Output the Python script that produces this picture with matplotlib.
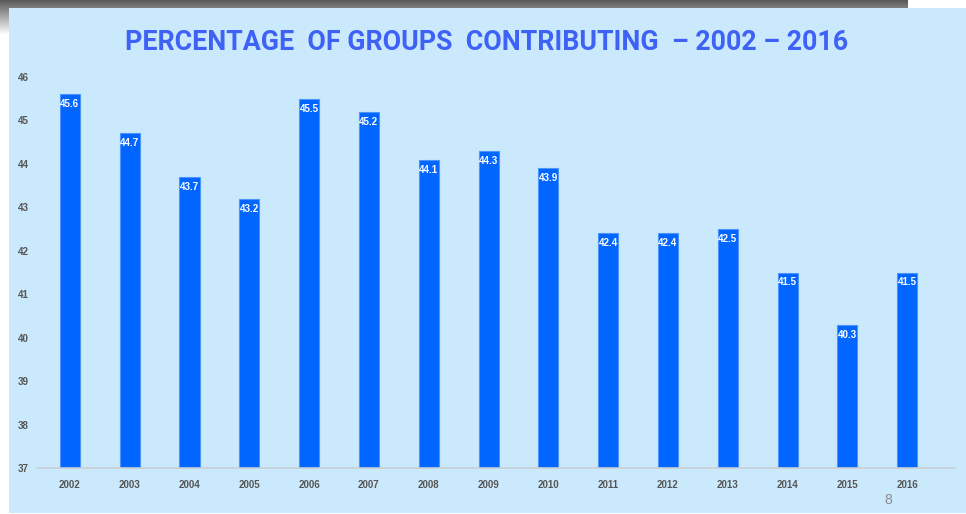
import numpy as np
import matplotlib.pyplot as plt
from matplotlib.patches import Rectangle

years = ['2002', '2003', '2004', '2005', '2006', '2007', '2008', '2009',
         '2010', '2011', '2012', '2013', '2014', '2015', '2016']
pct = [45.6, 44.7, 43.7, 43.2, 45.5, 45.2, 44.1, 44.3,
       43.9, 42.4, 42.4, 42.5, 41.5, 40.3, 41.5]
yticks = [37, 38, 39, 40, 41, 42, 43, 44, 45, 46]

W, H = 966, 514
bg = '#cbe9fd'
bar_col = '#0066ff'

fig = plt.figure(figsize=(W / 100, H / 100), dpi=100)
fig.patch.set_facecolor('white')

# slide panel (behind everything)
fig.patches.append(Rectangle((9 / W, 1 / H), (W - 9) / W, (H - 9) / H,
                             transform=fig.transFigure, facecolor=bg,
                             edgecolor='none', zorder=-10))

# grey shadow strips at the top / left
top = fig.add_axes([0, (H - 8) / H, 908 / W, 8 / H])
top.imshow(np.linspace(0.35, 0.5, 20)[:, None], cmap='gray', vmin=0, vmax=1,
           aspect='auto', extent=[0, 1, 0, 1])
top.axis('off')
side = fig.add_axes([0, (H - 35) / H, 9 / W, 27 / H])
side.imshow(np.linspace(0.5, 1.0, 30)[:, None], cmap='gray', vmin=0, vmax=1,
            aspect='auto', extent=[0, 1, 0, 1])
side.axis('off')

ax = fig.add_axes([37 / W, 46 / H, (955 - 37) / W, (437 - 46) / H])
ax.set_zorder(5)
ax.set_facecolor('none')
x = np.arange(len(years))
ax.bar(x, [p - 37 for p in pct], bottom=37, width=0.335, color=bar_col,
       edgecolor='#4d94ff', linewidth=0.8, zorder=2)
for xi, p in zip(x, pct):
    ax.text(xi, p - 0.23, f'{p}', ha='center', va='center', color='white',
            fontsize=7, fontweight='bold', family='Liberation Sans', zorder=3)

ax.set_xlim(-0.55, 14.8)
ax.set_ylim(37, 46)
ax.set_yticks(yticks)
ax.set_xticks(x)
ax.set_xticklabels(years)
for s in ['top', 'right', 'left']:
    ax.spines[s].set_visible(False)
ax.spines['bottom'].set_color('#c8cfd6')
ax.spines['bottom'].set_linewidth(1.2)
ax.tick_params(axis='both', length=0, labelsize=7, labelcolor='#555555')
ax.tick_params(axis='y', pad=6)
ax.tick_params(axis='x', pad=9)
for lab in ax.get_xticklabels() + ax.get_yticklabels():
    lab.set_family('Liberation Sans')
    lab.set_fontweight('bold')

fig.text(487 / W, 1 - 42 / H, 'PERCENTAGE  OF GROUPS  CONTRIBUTING  \u2013 2002 \u2013 2016',
         ha='center', va='center', color='#3d62f5', fontsize=19.3,
         fontweight='bold', family=['Roboto', 'DejaVu Sans'])
fig.text(888 / W, 1 - 500 / H, '8', ha='center', va='center',
         color='#8a8a8a', fontsize=10, family='Liberation Sans')

fig.savefig('out.png', dpi=100, facecolor=fig.get_facecolor())
